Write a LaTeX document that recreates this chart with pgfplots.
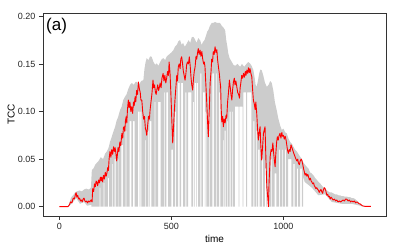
\documentclass[border=0pt]{standalone}
\usepackage{pgfplots}
\pgfplotsset{compat=1.18}
\usepgfplotslibrary{fillbetween}
\usepackage{fontspec}
\setmainfont{Liberation Sans}
\begin{document}
\begin{tikzpicture}
\begin{axis}[
  scale only axis, width=343pt, height=203pt,
  xmin=-73, xmax=1458, ymin=-0.0098, ymax=0.2035,
  axis line style={black!80, line width=0.5pt},
  xtick={0,500,1000}, ytick={0,0.05,0.1,0.15,0.2},
  scaled y ticks=false, scaled x ticks=false,
  /pgf/number format/1000 sep={},
  /pgf/number format/assume math mode=true,
  y tick label style={/pgf/number format/.cd, fixed, fixed zerofill, precision=2, /tikz/.cd},
  tick align=outside, tick pos=left, major tick length=4pt,
  tick style={black!80, line width=0.5pt},
  ticklabel style={font=\fontsize{9}{10}\selectfont, text=black!85},
  xlabel=time, ylabel=TCC,
  label style={font=\fontsize{10}{12}\selectfont},
  xlabel style={at={(axis description cs:0.5,-0.113)}, anchor=center},
  ylabel style={at={(axis description cs:-0.093,0.5)}, anchor=center},
  clip=true,
]
\addplot[name path=up, draw=none, forget plot] table {
0 0
39 0
45 0.004
50 0.008
55 0.0105
62 0.012
70 0.015
78 0.016
90 0.017
100 0.016
110 0.018
120 0.019
130 0.018
137 0.019
141 0.020
145 0.0385
152 0.040
160 0.044
167 0.046
175 0.048
185 0.052
195 0.050
205 0.056
212 0.058
220 0.062
226 0.068
232 0.072
240 0.078
249 0.084
255 0.090
262 0.094
271 0.1015
278 0.105
285 0.112
293 0.1155
300 0.118
308 0.124
316 0.128
324 0.130
332 0.128
340 0.131
346 0.131
355 0.128
365 0.132
375 0.133
380 0.145
385 0.152
390 0.156
398 0.154
405 0.158
412 0.1575
420 0.152
428 0.149
435 0.1505
442 0.148
450 0.152
457 0.155
464 0.156
472 0.154
480 0.158
490 0.160
500 0.162
509 0.1645
516 0.168
524 0.170
532 0.174
539 0.175
546 0.170
552 0.172
560 0.168
569 0.1715
577 0.175
584 0.172
591 0.178
598 0.1785
605 0.176
612 0.172
620 0.177
628 0.175
635 0.170
641 0.173
648 0.175
655 0.180
660 0.184
665 0.1855
672 0.190
680 0.193
687 0.193
695 0.194
705 0.193
717 0.193
725 0.190
733 0.188
740 0.1855
745 0.175
750 0.168
754 0.161
760 0.156
770 0.152
777 0.149
785 0.148
795 0.150
807 0.147
815 0.150
825 0.147
835 0.150
843 0.152
851 0.1505
858 0.148
866 0.1435
872 0.135
876 0.128
881 0.126
886 0.132
892 0.140
897 0.144
903 0.1435
910 0.138
918 0.130
926 0.126
934 0.128
941 0.132
948 0.13
955 0.122
962 0.110
970 0.1015
978 0.092
986 0.085
993 0.0805
1000 0.082
1008 0.078
1015 0.077
1022 0.072
1030 0.068
1038 0.066
1045 0.063
1052 0.060
1060 0.058
1068 0.055
1075 0.0525
1082 0.050
1090 0.046
1097 0.044
1104 0.042
1112 0.040
1119 0.036
1126 0.035
1134 0.033
1142 0.030
1150 0.028
1157 0.026
1164 0.0245
1172 0.022
1180 0.020
1186 0.019
1193 0.0175
1200 0.016
1208 0.015
1215 0.015
1223 0.014
1230 0.013
1238 0.013
1245 0.012
1253 0.012
1260 0.011
1268 0.011
1275 0.0105
1283 0.0105
1290 0.010
1298 0.010
1305 0.009
1312 0.009
1320 0.008
1330 0.006
1342 0.003
1357 0.0007
1391 0.0003
};
\addplot[name path=lo, draw=none, forget plot] table {
0 0
39 0
55 0.003
75 0.009
92 0.003
110 0.005
124 0.001
143 0.002
143 0
180 0
180 0.02
183 0.02
183 0
198 0
198 0.025
201 0.025
201 0
217 0
217 0.03
222 0.03
222 0
236 0
236 0.045
239 0.045
239 0
247 0
247 0.05
251 0.05
251 0
263 0
263 0.05
266 0.05
266 0
277 0
277 0.065
284 0.065
284 0
296 0
296 0.08
299 0.08
299 0
314 0
314 0.09
322 0.09
322 0
328 0
328 0.09
336 0.09
336 0
351 0
351 0.10
358 0.10
358 0
362 0
362 0.10
366 0.10
366 0
384 0
384 0.07
387 0.07
387 0
395 0
395 0.08
398 0.08
398 0
403 0
403 0.09
411 0.09
411 0
425 0
425 0.11
429 0.11
429 0
441 0
441 0.11
452 0.11
452 0
466 0
466 0.12
470 0.12
470 0
478 0
478 0.12
485 0.12
485 0
500 0
500 0.06
508 0.06
508 0
517 0
517 0.10
521 0.10
521 0
530 0
530 0.13
537 0.13
537 0
544 0
544 0.13
552 0.13
552 0
563 0
563 0.12
567 0.12
567 0
575 0
575 0.12
589 0.12
589 0
596 0
596 0.11
600 0.11
600 0
604 0
604 0.13
612 0.13
612 0
614 0
614 0.13
619 0.13
619 0
630 0
630 0.14
634 0.14
634 0
641 0
641 0.12
650 0.12
650 0
652 0
652 0.10
656 0.10
656 0
670 0
670 0.10
673 0.10
673 0
683 0
683 0.14
690 0.14
690 0
700 0
700 0.14
703 0.14
703 0
713 0
713 0.12
719 0.12
719 0
731 0
731 0.07
734 0.07
734 0
738 0
738 0.08
742 0.08
742 0
750 0
750 0.09
753 0.09
753 0
760 0
760 0.10
764 0.10
764 0
772 0
772 0.10
776 0.10
776 0
783 0
783 0.105
800 0.105
800 0
803 0
803 0.105
818 0.105
818 0
821 0
821 0.12
834 0.12
834 0
838 0
838 0.12
857 0.12
857 0
866 0
866 0.09
870 0.09
870 0
877 0
877 0.08
880 0.08
880 0
887 0
887 0.06
894 0.06
894 0
905 0
905 0.05
909 0.05
909 0
917 0
917 0.04
924 0.04
924 0
926 0
926 0.01
932 0.01
932 0
944 0
944 0.05
948 0.05
948 0
961 0
961 0.035
969 0.035
969 0
980 0
980 0.06
984 0.06
984 0
995 0
995 0.06
999 0.06
999 0
1008 0
1008 0.06
1012 0.06
1012 0
1021 0
1021 0.05
1036 0.05
1036 0
1045 0
1045 0.045
1050 0.045
1050 0
1060 0
1060 0.04
1066 0.04
1066 0
1075 0
1075 0.04
1082 0.04
1082 0
1088 0
1088 0.032
1095 0.026
1127 0.020
1156 0.012
1186 0.013
1216 0.005
1261 0.003
1305 0.003
1342 0.001
1357 0
1391 0.0003
};
\addplot[fill=black!20, draw=none, forget plot] fill between[of=up and lo];
\addplot[red, line width=0.9pt, line join=round] table {
0 0
38 0
45 0.002
50 0.005
56 0.004
62 0.009
67 0.008
72 0.013
75 0.0147
78 0.010
82 0.012
86 0.008
90 0.009
94 0.006
98 0.007
102 0.005
106 0.008
110 0.009
114 0.006
118 0.005
122 0.006
126 0.004
131 0.006
136 0.005
141 0.007
146 0.005
149 0.019
153 0.016
157 0.024
161 0.021
164 0.027
167 0.026
171 0.022
175 0.028
179 0.025
183 0.031
186 0.027
189 0.031
193 0.026
197 0.033
201 0.029
205 0.036
209 0.032
212 0.035
216 0.041
219 0.038
222 0.050
226 0.058
230 0.052
234 0.060
238 0.055
242 0.063
246 0.058
249 0.062
253 0.055
256 0.048
258 0.052
262 0.062
266 0.058
270 0.068
274 0.064
279 0.077
283 0.072
286 0.083
289 0.084
292 0.079
295 0.090
298 0.0945
301 0.088
304 0.102
308 0.112
311 0.104
315 0.110
319 0.100
323 0.105
327 0.098
331 0.110
334 0.106
338 0.1155
341 0.110
345 0.122
349 0.118
353 0.131
357 0.124
361 0.120
364 0.112
368 0.112
372 0.100
376 0.092
380 0.095
384 0.082
387 0.080
390 0.075
394 0.085
398 0.095
402 0.092
405 0.1015
409 0.110
413 0.118
418 0.133
421 0.125
425 0.128
429 0.120
432 0.118
435 0.1225
439 0.128
443 0.122
447 0.126
450 0.13
454 0.125
458 0.135
463 0.14
467 0.132
471 0.138
475 0.130
479 0.135
483 0.142
487 0.138
490 0.152
494 0.140
498 0.118
502 0.091
506 0.067
510 0.085
513 0.100
516 0.112
520 0.125
524 0.138
527 0.132
531 0.147
535 0.150
539 0.145
542 0.155
546 0.1575
550 0.150
553 0.143
557 0.138
561 0.133
565 0.140
568 0.149
572 0.152
576 0.150
580 0.1575
584 0.148
588 0.135
591 0.128
595 0.1225
599 0.135
602 0.142
606 0.147
610 0.158
613 0.155
617 0.162
620 0.166
624 0.160
628 0.1645
632 0.158
636 0.163
640 0.155
644 0.150
647 0.152
650 0.147
654 0.128
658 0.109
661 0.092
665 0.0735
669 0.100
673 0.13
677 0.142
680 0.155
684 0.152
687 0.163
691 0.160
695 0.168
699 0.162
703 0.165
706 0.155
710 0.147
714 0.140
717 0.132
720 0.126
722 0.105
725 0.089
729 0.095
732 0.084
736 0.092
740 0.088
744 0.096
747 0.093
751 0.110
755 0.120
759 0.133
763 0.125
766 0.118
770 0.112
773 0.122
777 0.131
781 0.135
784 0.128
788 0.132
792 0.126
796 0.120
800 0.118
804 0.114
807 0.125
810 0.130
814 0.138
818 0.135
822 0.140
826 0.136
830 0.142
833 0.138
837 0.1435
841 0.140
844 0.146
848 0.141
851 0.145
855 0.140
859 0.1365
862 0.125
866 0.112
870 0.108
874 0.102
877 0.110
881 0.098
884 0.085
888 0.070
892 0.078
896 0.084
899 0.065
903 0.049
907 0.062
911 0.077
914 0.080
918 0.084
922 0.050
926 0.021
930 0.010
933 0.0
936 0.025
941 0.0525
945 0.060
949 0.058
953 0.067
957 0.055
960 0.048
963 0.042
966 0.055
970 0.068
973 0.0735
977 0.070
981 0.075
985 0.077
989 0.072
993 0.078
996 0.074
1000 0.075
1004 0.071
1008 0.074
1012 0.070
1015 0.065
1018 0.060
1022 0.056
1026 0.060
1030 0.058
1034 0.065
1037 0.063
1041 0.060
1045 0.057
1048 0.055
1052 0.0525
1056 0.050
1060 0.048
1064 0.050
1067 0.046
1071 0.044
1075 0.048
1079 0.050
1082 0.049
1086 0.045
1090 0.040
1094 0.036
1097 0.033
1101 0.035
1105 0.032
1109 0.034
1112 0.0315
1116 0.028
1120 0.030
1124 0.027
1127 0.026
1131 0.024
1135 0.025
1138 0.022
1141 0.021
1145 0.019
1149 0.020
1153 0.018
1156 0.0175
1160 0.015
1164 0.017
1168 0.018
1171 0.016
1175 0.014
1179 0.018
1183 0.020
1186 0.019
1190 0.016
1194 0.012
1198 0.013
1201 0.0105
1205 0.011
1209 0.008
1213 0.010
1216 0.009
1222 0.007
1228 0.008
1233 0.006
1238 0.007
1244 0.005
1250 0.006
1256 0.005
1261 0.006
1266 0.007
1272 0.006
1278 0.008
1283 0.0078
1289 0.006
1294 0.007
1300 0.005
1305 0.006
1311 0.005
1317 0.006
1322 0.004
1328 0.005
1334 0.004
1338 0.003
1342 0.003
1347 0.002
1352 0.001
1357 0.0007
1365 0.0003
1391 0.0003
};
\node[anchor=north west, inner sep=0pt, font=\fontsize{17}{19}\selectfont] at ([xshift=3pt,yshift=-5pt]rel axis cs:0,1) {(a)};
\end{axis}
\path[use as bounding box] (-43pt,-33pt) rectangle (356pt,216pt);
\end{tikzpicture}
\end{document}
